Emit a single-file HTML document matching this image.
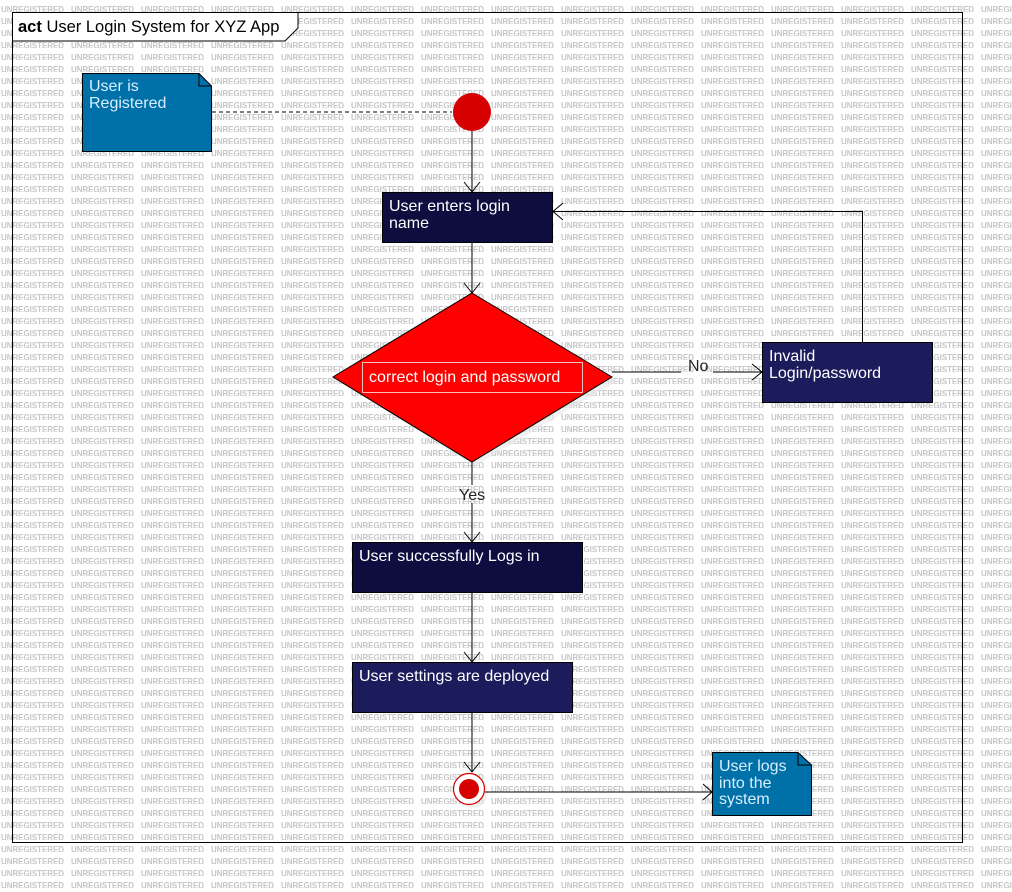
<!DOCTYPE html>
<html><head><meta charset="utf-8"><style>
html,body{margin:0;padding:0;background:#fff;}
svg{display:block;font-family:"Liberation Sans",sans-serif;}
</style></head><body>
<svg width="1012" height="892" viewBox="0 0 1012 892" xmlns="http://www.w3.org/2000/svg">
<defs>
<pattern id="wm" x="1" y="0" width="70" height="12" patternUnits="userSpaceOnUse">
<text x="0" y="12.5" font-size="9.5" font-weight="bold" fill="#c6c6c6" textLength="63" lengthAdjust="spacingAndGlyphs">UNREGISTERED</text>
</pattern>
</defs>
<rect width="1012" height="892" fill="#fff"/>
<rect width="1012" height="892" fill="url(#wm)"/>
<rect x="12.5" y="12.5" width="950" height="830" fill="none" stroke="#000" stroke-width="1"/>
<path d="M12.5 12.5 H298 V28 L285 41 H12.5 Z" fill="#fff" stroke="#000"/>
<text x="18" y="32" font-size="16.5" fill="#000"><tspan font-weight="bold">act</tspan> User Login System for XYZ App</text>

<path d="M82.5 73.5 H199 L211.5 86 V151.5 H82.5 Z" fill="#0070a8" stroke="#000"/>
<path d="M199 73.5 V86 H211.5" fill="none" stroke="#000"/>
<text x="89" y="91" font-size="16" fill="#d8efff">User is</text>
<text x="89" y="108" font-size="16" fill="#d8efff">Registered</text>
<line x1="212" y1="112" x2="452" y2="112" stroke="#000" stroke-dasharray="4,3"/>

<circle cx="472" cy="112" r="19" fill="#d60000"/>
<line x1="472" y1="131" x2="472" y2="192" stroke="#000"/>
<path d="M464 182 L472 192 L480 182" fill="none" stroke="#000"/>

<rect x="382.5" y="192.5" width="170" height="50" fill="#0d0d40" stroke="#000"/>
<text x="389" y="211" font-size="16" fill="#fff">User enters login</text>
<text x="389" y="228" font-size="16" fill="#fff">name</text>
<line x1="472" y1="243" x2="472" y2="293" stroke="#000"/>
<path d="M464 283 L472 293 L480 283" fill="none" stroke="#000"/>

<path d="M474 297 L617 381 L475 466 L338 381 Z" fill="#e8e8e8" opacity="0.6"/>
<path d="M472 293 L612 377 L472 462 L333 377 Z" fill="#ff0000" stroke="#000"/>
<rect x="362.5" y="362.5" width="220" height="30" fill="none" stroke="#f5c0c0"/>
<text x="369" y="382" font-size="16" fill="#fff">correct login and password</text>

<line x1="612" y1="372" x2="681" y2="372" stroke="#000"/>
<line x1="713" y1="372" x2="762" y2="372" stroke="#000"/>
<path d="M752 364 L762 372 L752 380" fill="none" stroke="#000"/>
<text x="688" y="371" font-size="16" fill="#222">No</text>

<rect x="762.5" y="342.5" width="170" height="60" fill="#1c1c5c" stroke="#000"/>
<text x="769" y="361" font-size="16" fill="#fff">Invalid</text>
<text x="769" y="378" font-size="16" fill="#fff">Login/password</text>
<path d="M862.5 342 V211.5 H553" fill="none" stroke="#000"/>
<path d="M563 203 L553 211.5 L563 220" fill="none" stroke="#000"/>

<line x1="472" y1="462" x2="472" y2="485" stroke="#000"/>
<line x1="472" y1="503" x2="472" y2="542" stroke="#000"/>
<path d="M464 532 L472 542 L480 532" fill="none" stroke="#000"/>
<text x="459" y="500" font-size="16" fill="#222">Yes</text>

<rect x="352.5" y="542.5" width="230" height="50" fill="#0d0d40" stroke="#000"/>
<text x="359" y="561" font-size="16" fill="#fff">User successfully Logs in</text>
<line x1="472" y1="593" x2="472" y2="662" stroke="#000"/>
<path d="M464 652 L472 662 L480 652" fill="none" stroke="#000"/>

<rect x="352.5" y="662.5" width="220" height="50" fill="#1c1c5c" stroke="#000"/>
<text x="359" y="681" font-size="16" fill="#fff">User settings are deployed</text>
<line x1="472" y1="713" x2="472" y2="772" stroke="#000"/>
<path d="M464 762 L472 772 L480 762" fill="none" stroke="#000"/>

<circle cx="472" cy="792" r="16" fill="#e8e8e8" opacity="0.6"/>
<circle cx="469" cy="789" r="15.5" fill="#fff" stroke="#d60000" stroke-width="1.2"/>
<circle cx="469" cy="789" r="10" fill="#d60000"/>
<line x1="485" y1="792" x2="712" y2="792" stroke="#000"/>
<path d="M703 784 L712 792 L703 800" fill="none" stroke="#000"/>

<path d="M712.5 752.5 H798 L811.5 765 V815.5 H712.5 Z" fill="#0070a8" stroke="#000"/>
<path d="M798 752.5 V765 H811.5" fill="none" stroke="#000"/>
<text x="719" y="771" font-size="16" fill="#d8efff">User logs</text>
<text x="719" y="788" font-size="16" fill="#d8efff">into the</text>
<text x="719" y="804" font-size="16" fill="#d8efff">system</text>
</svg>
</body></html>
